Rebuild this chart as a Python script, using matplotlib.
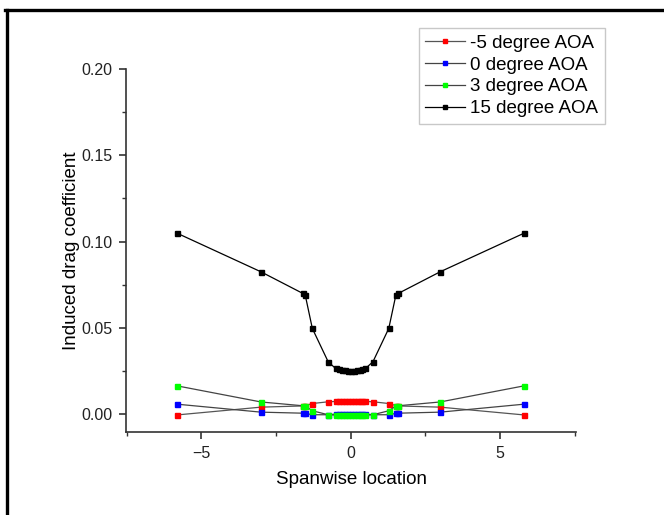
import matplotlib
matplotlib.use('Agg')
import matplotlib.pyplot as plt
from matplotlib.ticker import MultipleLocator
from matplotlib.lines import Line2D

plt.rcParams['font.family'] = ['Liberation Sans', 'DejaVu Sans']

# spanwise stations
span = [-5.8, -3.0, -1.6, -1.52, -1.28, -0.75, -0.5, -0.4, -0.3, -0.2, -0.1, 0.0,
        0.1, 0.2, 0.3, 0.4, 0.5, 0.75, 1.28, 1.52, 1.6, 3.0, 5.8]

cd_m5 = [-0.0004, 0.0041, 0.0048, 0.0050, 0.0062, 0.0072, 0.0074, 0.0075, 0.0075, 0.0075, 0.0075, 0.0075,
         0.0075, 0.0075, 0.0075, 0.0075, 0.0074, 0.0072, 0.0062, 0.0050, 0.0048, 0.0041, -0.0004]
cd_0 = [0.0058, 0.0012, 0.0006, 0.0005, -0.0003, -0.0003, 0.0000, 0.0001, 0.0001, 0.0001, 0.0001, 0.0001,
        0.0001, 0.0001, 0.0001, 0.0001, 0.0000, -0.0003, -0.0003, 0.0005, 0.0006, 0.0012, 0.0058]
cd_3 = [0.0164, 0.0071, 0.0049, 0.0048, 0.0020, -0.0003, -0.0005, -0.0006, -0.0006, -0.0006, -0.0006, -0.0006,
        -0.0006, -0.0006, -0.0006, -0.0006, -0.0005, -0.0003, 0.0020, 0.0048, 0.0049, 0.0071, 0.0164]
cd_15 = [0.1048, 0.0825, 0.0700, 0.0692, 0.0497, 0.0304, 0.0265, 0.0261, 0.0257, 0.0255, 0.0253, 0.0253,
         0.0253, 0.0255, 0.0257, 0.0261, 0.0265, 0.0304, 0.0497, 0.0692, 0.0700, 0.0825, 0.1048]

labels = ['-5 degree AOA', '0 degree AOA', '3 degree AOA', '15 degree AOA']
series = [cd_m5, cd_0, cd_3, cd_15]
marker_colors = ['#ff0000', '#0000ff', '#00ff00', '#000000']
line_colors = ['#555555', '#444444', '#444444', '#000000']

fig = plt.figure(figsize=(6.64, 5.15), dpi=100)
ax = fig.add_axes([126 / 664, 1 - 432 / 515, 450 / 664, 363 / 515])

for vals, lab, mc, lc in zip(series, labels, marker_colors, line_colors):
    ax.plot(span, vals, color=lc, lw=0.9, marker='s', ms=3.6,
            mfc=mc, mec=mc, label=lab)

ax.set_xlim(-7.52, 7.55)
ax.set_ylim(-0.0103, 0.2)
ax.xaxis.set_major_locator(MultipleLocator(5))
ax.xaxis.set_minor_locator(MultipleLocator(2.5))
ax.yaxis.set_major_locator(MultipleLocator(0.05))
ax.yaxis.set_minor_locator(MultipleLocator(0.025))
ax.yaxis.set_major_formatter(plt.FormatStrFormatter('%.2f'))

for s in ['top', 'right']:
    ax.spines[s].set_visible(False)
for s in ['left', 'bottom']:
    ax.spines[s].set_color('#333333')
    ax.spines[s].set_linewidth(1.2)
ax.tick_params(which='major', direction='out', length=5, width=1.2, color='#333333',
               labelsize=11.5, labelcolor='#222222', pad=5)
ax.tick_params(which='minor', direction='out', length=3, width=1.0, color='#333333')

ax.set_xlabel('Spanwise location', fontsize=13.5, labelpad=7.5)
ax.set_ylabel('Induced drag coefficient', fontsize=13.5, labelpad=0.5)

handles = [Line2D([0], [0], color=lc, lw=0.9, marker='s', ms=3.0, mfc=mc, mec=mc)
           for mc, lc in zip(marker_colors, line_colors)]
leg = fig.legend(handles, labels, loc='upper right', bbox_to_anchor=(605 / 664, 1 - 28 / 515),
                 fontsize=13.5, frameon=True, fancybox=False, borderpad=0.35, labelspacing=0.25,
                 handlelength=2.1, handletextpad=0.3, borderaxespad=0)
leg.get_frame().set_edgecolor('#bbbbbb')
leg.get_frame().set_linewidth(1.0)

# black frame lines around the image (top and left)
fig.add_artist(Line2D([6.5 / 664, 6.5 / 664], [0, 1 - 9.5 / 515], color='black', lw=2.4,
                      transform=fig.transFigure))
fig.add_artist(Line2D([5.3 / 664, 1], [1 - 9.5 / 515, 1 - 9.5 / 515], color='black', lw=2.4,
                      transform=fig.transFigure))

fig.savefig('out.png', dpi=100)
